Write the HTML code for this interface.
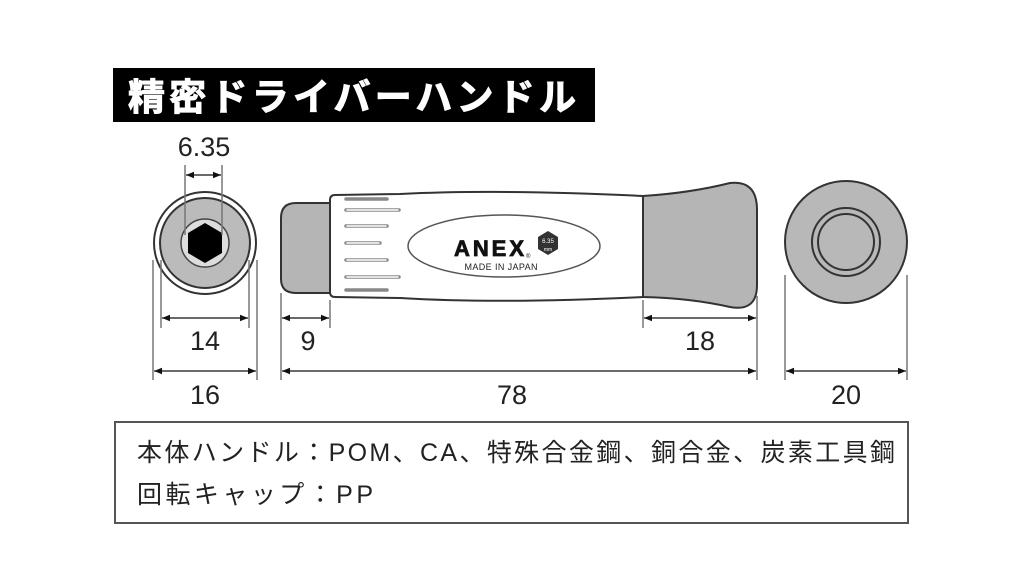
<!DOCTYPE html>
<html><head><meta charset="utf-8"><style>
html,body{margin:0;padding:0;background:#fff;}
svg{display:block}
text{font-family:"Liberation Sans","Noto Sans CJK JP",sans-serif;}
</style></head><body>
<svg width="1024" height="576" viewBox="0 0 1024 576" xmlns="http://www.w3.org/2000/svg">
<defs>
<marker id="a" viewBox="0 0 10 10" refX="10" refY="5" markerWidth="8" markerHeight="8" orient="auto-start-reverse" markerUnits="userSpaceOnUse"><path d="M0,1 L10,5 L0,9z" fill="#111"/></marker>
</defs>
<rect x="113" y="68" width="482" height="54" fill="#000"/>
<text x="128" y="110" font-size="37" font-weight="bold" fill="#fff" stroke="#fff" stroke-width="1" textLength="448" font-family="Noto Sans CJK JP,sans-serif">精密ドライバーハンドル</text>

<circle cx="205" cy="243" r="51" fill="#fff" stroke="#333" stroke-width="2"/>
<circle cx="205" cy="243" r="45" fill="#bbb" stroke="#333" stroke-width="2"/>
<circle cx="205" cy="243" r="24" fill="#ddd" stroke="#444" stroke-width="1.5"/>
<polygon points="205,223 222,233 222,253 205,263 188,253 188,233" fill="#000"/>
<g stroke="#777" stroke-width="1.5">
<line x1="185" y1="165" x2="185" y2="235"/><line x1="222" y1="165" x2="222" y2="235"/>
<line x1="161" y1="260" x2="161" y2="328"/><line x1="249" y1="260" x2="249" y2="328"/>
<line x1="153" y1="260" x2="153" y2="380"/><line x1="257" y1="260" x2="257" y2="380"/>
<line x1="281" y1="293" x2="281" y2="380"/><line x1="330" y1="300" x2="330" y2="328"/>
<line x1="643" y1="300" x2="643" y2="328"/><line x1="757" y1="296" x2="757" y2="380"/>
<line x1="785" y1="275" x2="785" y2="380"/><line x1="907" y1="275" x2="907" y2="380"/>
</g>
<g stroke="#111" stroke-width="1.3" marker-start="url(#a)" marker-end="url(#a)">
<line x1="186" y1="175" x2="221" y2="175"/>
<line x1="162" y1="318" x2="248" y2="318"/>
<line x1="154" y1="371" x2="256" y2="371"/>
<line x1="282" y1="318" x2="329" y2="318"/>
<line x1="644" y1="318" x2="756" y2="318"/>
<line x1="282" y1="371" x2="756" y2="371"/>
<line x1="786" y1="371" x2="906" y2="371"/>
</g>
<g font-size="27" fill="#222" text-anchor="middle">
<text x="204" y="156">6.35</text>
<text x="205" y="350">14</text>
<text x="205" y="404">16</text>
<text x="308" y="350">9</text>
<text x="700" y="350">18</text>
<text x="512" y="404">78</text>
<text x="846" y="404">20</text>
</g>

<path d="M331,203 L296,203 Q281,203 281,218 L281,279 Q281,293 296,293 L331,293z" fill="#b5b5b5" stroke="#333" stroke-width="2"/>
<path d="M335,195 L400,194 Q500,189 643,196 L643,297 Q500,304 400,298 L335,297 Q330,297 330,292 L330,200 Q330,195 335,195z" fill="#fff" stroke="#333" stroke-width="2"/>
<g fill="none" stroke="#888" stroke-width="3.5" stroke-linecap="round">
<line x1="346" y1="199" x2="387" y2="199"/>
<line x1="346" y1="210" x2="399" y2="210"/>
<line x1="346" y1="226" x2="387" y2="226"/>
<line x1="346" y1="243" x2="380" y2="243"/>
<line x1="346" y1="260" x2="387" y2="260"/>
<line x1="346" y1="277" x2="399" y2="277"/>
<line x1="346" y1="290" x2="387" y2="290"/>
</g>
<g fill="none" stroke="#fff" stroke-width="1.5" stroke-linecap="round">
<line x1="347" y1="210" x2="398" y2="210"/>
<line x1="347" y1="226" x2="386" y2="226"/>
<line x1="347" y1="243" x2="379" y2="243"/>
<line x1="347" y1="260" x2="386" y2="260"/>
<line x1="347" y1="277" x2="398" y2="277"/>
</g>
<ellipse cx="504" cy="246" rx="96" ry="31" fill="#fff" stroke="#555" stroke-width="1.5"/>
<text x="454" y="256" font-size="22" font-weight="bold" fill="#111" stroke="#111" stroke-width="0.8" textLength="70">ANEX</text>
<text x="526" y="258" font-size="6" fill="#111">®</text>
<polygon points="548,231 558,237 558,249 548,255 538,249 538,237" fill="#333"/>
<text x="548" y="243" font-size="6" fill="#fff" text-anchor="middle">6.35</text>
<text x="548" y="251" font-size="5" fill="#fff" text-anchor="middle">mm</text>
<text x="501" y="270" font-size="9" fill="#222" text-anchor="middle" textLength="73">MADE IN JAPAN</text>
<path d="M643,196 Q690,193 730,183 Q757,180 757,210 L757,285 Q757,312 730,307 Q690,298 643,297z" fill="#b5b5b5" stroke="#333" stroke-width="2"/>

<circle cx="846" cy="242" r="61" fill="#b8b8b8" stroke="#333" stroke-width="2"/>
<circle cx="846" cy="242" r="34" fill="none" stroke="#333" stroke-width="2"/>
<circle cx="846" cy="242" r="28" fill="none" stroke="#333" stroke-width="2"/>

<rect x="115" y="422" width="793" height="101" fill="#fff" stroke="#555" stroke-width="2"/>
<text x="137" y="461" font-size="25" fill="#222" textLength="758" font-family="Noto Sans CJK JP,sans-serif">本体ハンドル：POM、CA、特殊合金鋼、銅合金、炭素工具鋼</text>
<text x="137" y="503" font-size="25" fill="#222" textLength="236" font-family="Noto Sans CJK JP,sans-serif">回転キャップ：PP</text>
</svg>
</body></html>
